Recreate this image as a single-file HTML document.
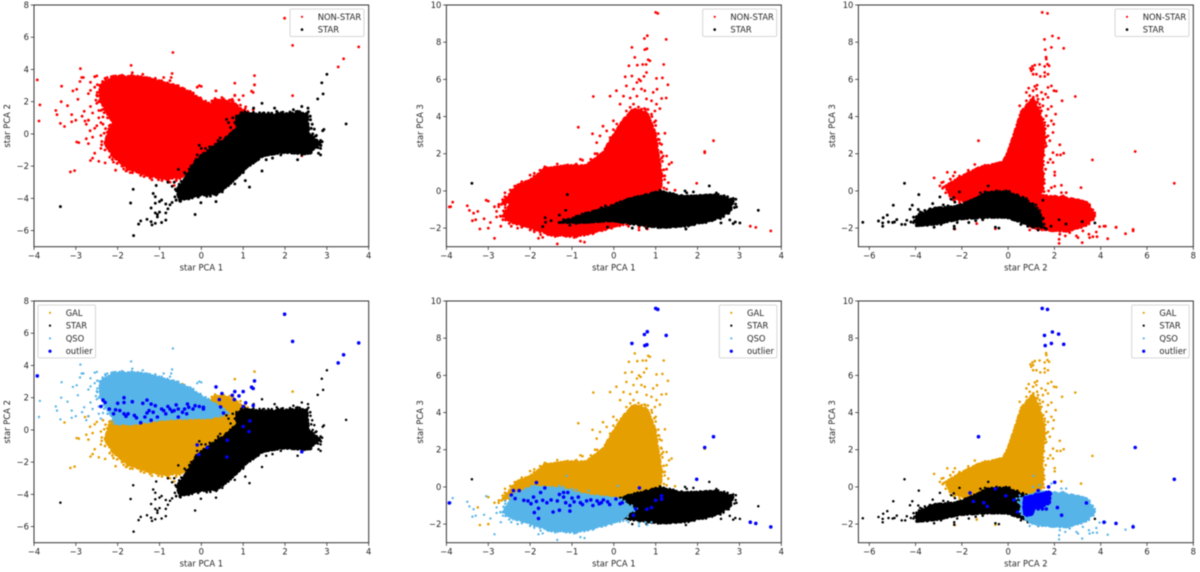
<!DOCTYPE html>
<html lang="en">
<head>
<meta charset="utf-8">
<title>Star PCA scatter plots</title>
<style>
html,body{margin:0;padding:0;background:#fff;width:1200px;height:572px;overflow:hidden}
svg{display:block;filter:blur(0.4px)}
text{font-family:"DejaVu Sans","Liberation Sans",sans-serif;font-size:8.4px;fill:#262626}
</style>
</head>
<body>
<svg id="chart" xmlns="http://www.w3.org/2000/svg" width="1200" height="572" viewBox="0 0 1200 572"></svg>
<script>
// ---------- tick labels ----------
const pca1Ticks = [-4,-3,-2,-1,0,1,2,3,4];
const pca2AxisXTicks = [-6,-4,-2,0,2,4,6,8];
const pca2AxisYTicks = [-6,-4,-2,0,2,4,6,8];
const pca3Ticks = [-2,0,2,4,6,8,10];

// ---------- dense-cloud outlines, [x, y] in data units ----------
const galCloudA = [[-2.2,0.3],[-2,0.7],[-1.5,0.8],[-0.8,0.9],[-0.2,1],[0.1,1.4],[0.3,2.1],[0.55,2.05],[0.8,1.85],[1.05,1.3],[1.3,0.9],[1.4,0.3],[1.2,-0.5],[0.6,-1.5],[0,-2.2],[-0.4,-2.6],[-0.85,-2.8],[-1.3,-2.55],[-1.75,-2.15],[-2.1,-1.4],[-2.3,-0.6]];
const qsoCloudA = [[-2.42,3],[-2.1,3.5],[-1.63,3.56],[-1.23,3.4],[-0.67,3],[-0.27,2.57],[-0.03,2.15],[0.29,1.64],[0.6,1.1],[0.29,0.8],[-0.83,0.7],[-1.63,0.4],[-2.02,0.4],[-2.26,1.33],[-2.42,2.15]];
const starCloudA = [[0.85,1],[1,1.26],[1.56,1.16],[2.2,1.26],[2.52,1.26],[2.56,0],[2.84,-0.6],[2.52,-1.22],[1.96,-1.12],[1.48,-1.33],[1.08,-2.05],[0.76,-2.88],[0.37,-3.7],[-0.11,-3.8],[-0.51,-4.1],[-0.59,-3.5],[-0.35,-2.67],[-0.11,-1.64],[0.29,-0.8],[0.6,-0.3],[0.85,0.3]];

const galCloudB = [[-2.64,-0.63],[-2.32,0.27],[-1.92,0.63],[-1.68,1.17],[-1.13,1.35],[-0.65,1.35],[-0.25,2.06],[-0.01,2.96],[0.19,3.68],[0.47,4.4],[0.78,4.22],[0.98,3.14],[1.06,1.89],[1.14,0.8],[1.1,-0.27],[0.47,-0.63],[-0.33,-0.63],[-1.52,-0.09],[-2.32,-0.63]];
const qsoCloudB = [[-2.64,-1.35],[-2.4,-0.45],[-1.92,0],[-1.29,-0.09],[-0.65,-0.45],[0.07,-0.63],[0.47,-1.17],[0.15,-1.8],[-0.41,-2.15],[-0.89,-2.42],[-1.52,-2.33],[-2.08,-1.89],[-2.48,-1.62]];
const starCloudB = [[-1.2,-1.67],[-0.65,-1.22],[-0.17,-0.95],[0.31,-0.5],[1.1,-0.05],[1.66,-0.32],[2.45,-0.23],[2.85,-0.5],[2.77,-1.04],[2.45,-1.49],[1.74,-1.85],[1.1,-1.94],[0.47,-1.76],[-0.01,-1.58],[-0.65,-1.67]];

const galCloudC = [[-2.66,0.27],[-2.08,0.72],[-1.22,1.26],[-0.22,1.53],[0,2.06],[0.29,3.14],[0.57,4.22],[1.08,4.94],[1.36,4.22],[1.58,2.96],[1.44,1.53],[1.5,0.09],[1.08,-0.63],[0.36,-0.63],[-1.8,-0.63],[-2.5,-0.27]];
const qsoCloudC = [[0.57,-0.63],[1.36,-0.27],[2.37,-0.36],[3.38,-0.63],[3.74,-1.35],[3.38,-1.8],[2.51,-2.15],[1.51,-2.06],[0.93,-1.89],[0.57,-1.35]];
const starCloudC = [[-3.95,-1.4],[-3.23,-0.95],[-2.23,-0.86],[-1.51,-0.5],[-0.93,-0.14],[-0.07,-0.05],[0.79,-0.5],[1.36,-1.22],[1.44,-1.94],[0.79,-1.76],[-0.07,-1.4],[-0.93,-1.4],[-2.08,-1.49],[-3.09,-1.76],[-3.95,-1.85]];
const outlierCloudC = [[0.75,-0.6],[1.3,-0.45],[1.8,-0.3],[1.75,-0.85],[1.4,-1.05],[1.1,-1.15],[1,-1.45],[0.75,-1.5],[0.7,-1]];

// ---------- individually readable points, [x, y] in data units ----------
const galPointsA = [[-3.13,-2.36],[-3.03,-2.28],[-2.98,-0.5],[-2.93,-0.54],[-2.78,0.8],[-2.7,0.85],[-3.27,0.46],[-2.66,0.2],[-2.75,-0.3],[-2.7,-0.6],[-2.65,-1.65],[-2.6,-1.5],[-2.55,-1.2],[-2.6,-0.2],[-2.55,0.35],[-2.5,0.5],[-2.45,-1.7],[-2.4,-0.9],[-2.4,-0.1],[-2.35,0.6],[-2.3,-1.8],[-2.3,-0.6],[-2.25,0.1],[-2.2,-0.9],[-2.2,0.5],[-2.15,-1.3],[-2.1,-1.75],[-2.05,-2.25],[-2,-1.5],[-1.95,0.55],[-1.9,-2],[-1.85,-1.7],[-1.8,-2.3],[-1.7,-2.4],[-1.6,-2.25],[-1.55,-2.1],[-1.4,-2.45],[-1.3,-2.4],[-1.2,-2.65],[-1.18,-2.85],[-1,-2.6],[-0.9,-2.75],[-0.8,-2.6],[-0.75,-3],[-0.65,-3.2],[-0.6,-2.9],[-2.15,-0.3],[-2,-0.6],[0.35,2],[0.5,1.9],[0.6,1.7],[0.7,2.1],[0.8,3.15],[0.75,1.4],[0.9,1.4],[1,1],[1.27,3.62],[1.27,3.05],[2.18,2.38],[0.8,2.4],[-0.45,2.85],[1.3,0.7],[1.4,0.6],[0.45,2.1],[0.55,2.05],[0.25,2.05],[1.1,1.3]];
const qsoPointsA = [[-3.86,1.8],[-3.88,0.8],[-2.89,4.05],[-2.86,3.5],[-2.82,3.5],[-2.9,3.25],[-3.34,2.96],[-2.98,2.77],[-3.07,2.67],[-3.35,2],[-3.2,1.75],[-3.1,1.2],[-3.45,1.2],[-3.48,1.45],[-3.37,0.65],[-3.1,0.75],[-3,0.85],[-2.95,2.15],[-2.8,1.4],[-2.85,1.1],[-2.75,0.6],[-2.7,0.85],[-2.65,1.7],[-2.7,2.5],[-2.65,2.7],[-2.65,3.2],[-2.6,1.3],[-2.55,3.55],[-2.5,3.6],[-2.5,1.9],[-2.45,1],[-2.4,0.7],[-2.3,3.45],[-2.25,3.5],[-2.15,3.55],[-2.05,3.6],[-1.9,3.65],[-1.75,3.55],[-1.68,4.25],[-1.65,3.8],[-1.4,3.7],[-1.35,3.5],[-1.3,3.5],[-1.1,3.45],[-0.95,3.3],[-0.9,3.5],[-0.7,3.75],[-0.72,3.5],[-0.75,3.3],[-0.68,5.05],[-0.55,3],[-0.1,2.9],[-0.05,3],[0,2.95],[-0.5,2.7],[-2.55,2.9],[-2.5,2.4],[-2.52,2.1],[-2.45,1.45],[-2.35,1.05],[-2.3,3.2],[-2.1,3.4],[-1.55,3.5],[-1.2,3.3],[-1,3.15],[-0.6,2.75],[-0.35,2.4],[-0.15,2.25],[0.1,1.8],[0.2,1.6]];
const starPointsA = [[-3.37,-4.51],[-1.62,-6.31],[-1.63,-3.44],[-1.69,-4.29],[-0.15,-5],[-0.01,-4.27],[3,3.7],[2.88,3.17],[2.91,2.48],[2.78,2.17],[3.46,0.62],[-1.5,-5.6],[-1.45,-5.4],[-1.3,-5.3],[-1.2,-5.45],[-1.18,-5.65],[-1.1,-5.55],[-1.05,-5.15],[-0.95,-5.5],[-0.85,-5.35],[-1.2,-4.6],[-1.1,-4.9],[-1.05,-5],[-1,-4.85],[-0.85,-4.9],[-0.8,-4.65],[-1.15,-3.7],[-1.1,-3.9],[-1.08,-3.2],[-1.1,-4.3],[-1,-4.2],[-0.95,-4.1],[-0.85,-4.35],[-0.75,-4.4],[-0.7,-4.25],[-0.6,-4.1],[-0.6,-3.5],[-0.5,-4],[-0.45,-3.9],[-0.4,-4],[-0.3,-4],[-0.2,-3.6],[-0.55,-2.2],[-0.65,-3],[-0.8,-3],[-0.7,-3.25],[-0.45,-3],[-0.4,-2.4],[-0.2,-2.3],[-0.15,-1.7],[-0.1,-1.3],[-0.05,-0.7],[0,-0.9],[0.1,-0.9],[0.1,-1.4],[0.2,-0.8],[0.3,-1],[0.35,-0.7],[0.4,-0.4],[0.45,-0.25],[0.5,-0.5],[0.55,-1],[0.6,-0.2],[0.65,0.7],[0.6,0.9],[0.7,0.4],[0.75,1],[0.8,0.7],[0.85,0.1],[0.95,1.3],[1,0.8],[1.1,1.3],[1.2,1.1],[1.25,1.6],[1.3,0.9],[1.45,1.9],[1.5,1.3],[1.6,1.3],[1.75,1.6],[1.8,1.4],[1.95,1.35],[2,1.2],[2.2,1.5],[2.3,1.4],[2.4,1.7],[2.55,1.6],[2.6,1.1],[2.65,0.6],[2.7,0.3],[2.75,-0.1],[2.7,-0.7],[2.85,-0.9],[2.9,0.2],[2.93,0.28],[2.85,-0.4],[2.8,-1.2],[2.85,-1.3],[2.6,-1.2],[2.4,-1.3],[2.3,-1.6],[2.15,-1.15],[1.9,-1.3],[1.7,-1.5],[1.55,-1.6],[1.45,-2.3],[1.3,-1.5],[1.15,-1.7],[1.15,-3.3],[1.05,-2.9],[1,-2.4],[0.9,-2.1],[0.8,-3.1],[0.8,-2.5],[0.65,-3.2],[0.6,-2.7],[0.5,-3.1],[0.5,-3.6],[0.35,-3.6],[0.35,-4.2],[0.3,-3.2],[0.15,-3.5],[0,-3.7],[-0.1,-3.4]];
const outlierPointsA = [[-3.92,3.35],[1.99,7.18],[2.18,5.49],[3.76,5.4],[3.4,4.66],[3.27,4.16],[0.35,2.67],[0.49,2.26],[1.27,3.04],[1.2,2.65],[1.24,2.57],[1,2.38],[0.8,2.38],[0.74,2.15],[0.9,2.11],[0.43,1.88],[0.79,1.88],[1.06,1.68],[1,1.45],[1.24,1.51],[0.46,1.43],[0.53,1.04],[1.16,0.56],[1,0.21],[1.14,-0.1],[0.62,-0.64],[-0.1,-0.93],[0.14,-1.1],[-0.06,-1.53],[0.61,-1.68],[2.4,-1.35],[-2.4,1.45],[-2.35,1.85],[-2.3,1.7],[-2.2,1.3],[-2.1,1],[-2.05,1.25],[-2,1.65],[-1.95,1.2],[-1.85,2],[-1.85,1.7],[-1.85,1],[-1.8,0.85],[-1.75,1],[-1.65,1.75],[-1.6,0.9],[-1.55,0.75],[-1.45,0.45],[-1.4,1.65],[-1.35,0.8],[-1.3,1.05],[-1.3,1.85],[-1.25,1.2],[-1.2,0.6],[-1.2,1.6],[-1.15,1.1],[-1.1,1.5],[-1.05,0.8],[-0.95,1.3],[-0.9,1.2],[-0.85,1],[-0.8,1.45],[-0.75,1.3],[-0.7,1.15],[-0.65,1.2],[-0.6,1.55],[-0.55,1.3],[-0.55,0.8],[-0.45,1.1],[-0.4,1.3],[-0.35,1],[-0.33,1.6],[-0.3,1.4],[-0.2,1.3],[-0.15,1.5],[-0.05,1.45],[0.05,1.4],[0.05,1.3]];

const galPointsB = [[0.5,7.18],[0.36,6.73],[0.56,6.77],[0.82,7.05],[0.86,7],[0.77,6.8],[0.69,6.8],[1.19,6.8],[1.16,6.08],[1.29,5.71],[-0.49,5.08],[-0.09,5.1],[0.06,5.39],[0.27,6.14],[0.43,6.18],[0.78,6.37],[0.72,6.16],[0.6,6],[0.64,5.92],[0.55,5.83],[0.3,5.65],[0.47,5.48],[0.66,5.48],[0.74,5.39],[1.02,6.05],[1.03,5.47],[1.14,4.97],[1.25,5],[0.94,5.3],[0.23,5.1],[0.39,5],[0.55,5.1],[0.78,4.95],[0.9,4.85],[0.15,4.67],[0.47,4.67],[0.39,4.5],[0.66,4.4],[1.02,4.67],[1.1,4.43],[0.98,4.3],[0.9,4.13],[-0.85,3.43],[-0.26,3.48],[-0.01,3.77],[0.07,3.6],[1.22,3.1],[1,3.77],[0.94,3.3],[1.06,2.78],[-0.51,3.07],[-0.41,2.6],[-0.33,2.96],[-0.17,3.23],[-0.09,2.87],[-0.01,3.3],[1.14,2.5],[1.18,1.88],[1.26,1.88],[1.38,1.53],[1.32,1.43],[1.26,1.17],[1.18,0.8],[1.3,0.45],[1.26,0.09],[1.46,0.04],[1.1,1.7],[1.14,2.06],[-1.65,1.3],[-1.6,1.25],[-1.5,1.1],[-1.35,1.45],[-1.3,1.3],[-1.2,1.1],[-1.1,1.4],[-1,1.25],[-0.95,1],[-0.9,1.45],[-0.8,1.7],[-0.75,1.65],[-0.6,1.5],[-0.55,1.7],[-0.45,2],[-0.4,2],[-0.35,1.7],[-0.3,1.9],[-0.2,2.2],[-0.15,2.5],[-0.1,2.3],[-1.75,0.7],[-1.9,0.95],[-2,0.85],[-2.1,0.5],[-2.2,0.35],[-2.35,0.15],[-2.45,-0.15],[-2.6,-0.1],[-2.2,0.5],[-2.15,0.3],[-3.2,-2.05],[-3,-2],[-3,-0.55],[-3.25,-1.1],[-2.75,-0.85],[-2.85,-0.85],[2.17,2.05],[0.25,3.9],[0.3,4.3],[0.75,4.4],[0.85,3.9],[0.15,3.3],[0.1,2.8],[-0.05,2.5]];
const qsoPointsB = [[-3.9,-0.85],[-3.85,-0.6],[-3.5,-0.8],[-3.45,-1.05],[-3.35,-1.2],[-3.38,-1.6],[-3.3,-1.55],[-3.1,-1.5],[-3.05,-0.5],[-2.95,-1.7],[-2.85,-2.55],[-2.8,-1.1],[-2.8,-1.4],[-2.7,-1.9],[-2.65,-1.55],[-2.6,-0.75],[-2.55,-1.3],[-2.5,-1.75],[-2.45,-1.9],[-2.3,-2],[-2.2,-1.95],[-2,-2.1],[-1.9,-2.2],[-1.8,-2.55],[-1.75,-2.35],[-1.7,-2.5],[-1.65,-2.2],[-1.6,-2.3],[-1.4,-2.45],[-1.35,-2.85],[-1.2,-2.4],[-1.05,-2.4],[-0.95,-2.5],[-0.9,-2.3],[-0.8,-2.7],[-0.7,-2.75],[-0.6,-2.3],[-0.5,-2.3],[-0.3,-2.1],[-0.2,-2.05],[-0.05,-2],[0.1,-1.8],[0.3,-1.8],[0.35,-1.9],[0.4,-1.3],[0.6,-1.95],[0.6,-2.1],[0.75,-1.9],[0.8,-2.05],[0.9,-1.9],[-1.13,0.6],[0.1,0.05],[-1.75,-0.05],[-1.3,0.05],[-1.2,0],[-1,-0.1],[-0.6,-0.2],[-0.9,-0.15]];
const starPointsB = [[-3.39,0.41],[-1.11,-0.2],[-1.15,-1.04],[-1.3,-1.3],[-1.64,-1.44],[-1.7,-1.92],[-1.63,-1.69],[-1.5,-1.6],[3.45,-1.04],[3.01,-1.72],[2.85,-1.76],[2.77,-1.56],[2.9,-1.67],[2.56,-1.72],[2.28,0.27],[1.9,-0.05],[1.7,0],[1.74,-0.1],[1.1,0.03],[1.18,-0.1],[1.26,-0.23],[1.38,-0.32],[0.44,-2],[-0.15,-1.94],[0.78,-2],[1.72,-2.05],[1.26,-1.95],[1.06,-1.88],[2.2,-0.32],[2.45,-0.11],[2.54,-0.32],[2.85,-0.4],[2.93,-0.86],[2.73,-0.5],[2.65,-0.7],[-1.1,-1.7],[-1.2,-1.55],[-1.05,-1.85],[-0.9,-1.75],[-0.75,-1.5],[-0.6,-1.45],[-0.5,-1.3],[-0.4,-1.2],[-0.3,-0.9],[-0.2,-0.8],[-0.1,-0.9],[0.05,-0.85],[0.15,-0.7],[0.3,-0.55],[0.4,-0.45],[0.5,-0.45],[0.6,-0.35],[0.75,-0.3],[2.1,-0.4],[1.5,-0.4],[1.3,-0.55],[2.4,-1.5],[2.2,-1.7],[1.9,-1.8],[1.6,-1.9],[1.4,-1.85],[1.1,-1.75],[0.9,-1.85],[0.65,-1.8],[2.7,-1.2],[2.8,-1]];
const outlierPointsB = [[-3.93,-0.86],[1,9.6],[1.05,9.55],[0.8,8.35],[0.73,8.2],[1.25,8.15],[0.43,7.72],[0.74,7.6],[0.79,7.65],[2.38,2.7],[2.17,2.12],[1.98,0.41],[3.26,-1.9],[3.39,-1.96],[3.75,-2.15],[0.61,-0.05],[1.14,-0.48],[1.14,-0.66],[1,-0.72],[0.9,-1.11],[0.79,-1.2],[0.52,-1.18],[0.47,-1.52],[-1.85,0.23],[-2.4,-0.2],[-2.26,-0.2],[-2.45,-0.43],[-2.36,-0.63],[-2.15,-0.72],[-2.05,-0.75],[-1.98,-0.9],[-1.92,-0.55],[-1.9,-1.38],[-1.85,-0.78],[-1.8,-1.15],[-1.8,-1.7],[-1.75,-0.3],[-1.7,-0.72],[-1.65,-0.05],[-1.6,-0.85],[-1.5,-0.7],[-1.45,-1.35],[-1.35,-0.75],[-1.3,-1.25],[-1.3,-0.4],[-1.2,-0.3],[-1.2,-0.55],[-1.15,-0.85],[-1.1,-0.3],[-1.05,-1],[-1.05,-1.3],[-1,-0.6],[-0.95,-0.8],[-0.85,-0.55],[-0.8,-0.85],[-0.75,-0.95],[-0.65,-0.75],[-0.55,-0.7],[-0.5,-1],[-0.4,-0.75],[-0.35,-0.9],[-0.3,-0.85],[-0.25,-0.7],[-0.15,-0.8],[-0.1,-0.95],[0.05,-0.65],[0.15,-0.9],[0.2,-0.85]];

const galPointsC = [[1.64,7.2],[1.65,7.09],[1.7,6.82],[1.58,6.7],[1.36,6.8],[1.15,6.77],[1.05,6.7],[0.96,6.59],[1.08,6.55],[1,6.46],[1.08,6.28],[1.22,6.28],[1.39,6.16],[1.77,6.73],[1.58,6.37],[1.72,6.28],[1.58,6.16],[1.98,5.39],[2.08,5.37],[1.87,5.65],[1.72,5.57],[1.25,5.69],[1.15,5.62],[0.89,5.53],[0.79,5.3],[1.08,5.39],[1.22,5.48],[1.44,5.3],[1.62,5.2],[1.72,5.03],[1.5,4.94],[1.25,5.12],[1.29,4.94],[1.08,4.94],[0.93,5.12],[0.79,4.85],[2.33,4.85],[2.9,5.08],[1.87,4.54],[2.05,4.13],[1.72,4.4],[1.5,4.58],[1.36,4.67],[1.65,4.04],[1.87,3.77],[1.97,3.59],[1.94,3.14],[1.72,3.5],[1.58,3.68],[1.36,4.22],[1.15,4.49],[0.93,4.67],[0.6,4.22],[0.5,4.58],[0.65,4.4],[2.23,2.48],[2.4,2.03],[3.64,1.67],[1.72,2.96],[1.8,2.7],[1.65,2.42],[1.94,2.06],[2.11,1.94],[2.26,1.94],[1.82,1.7],[1.72,1.53],[2.01,1.02],[1.94,1.53],[1.62,1.17],[1.5,0.8],[2.01,0.84],[2.3,0.3],[3.15,0.18],[-3.2,0.7],[-2.63,1],[-2.87,0.45],[-2.8,0.48],[-2.95,0.27],[-2.73,0.23],[-2.66,0.09],[-2.83,0.14],[-2.5,0.63],[-2.37,0.8],[-2.3,0.54],[-2.1,0.8],[-1.72,1.11],[-1.44,1.42],[-1,1.38],[-0.36,1.53],[-0.19,1.51],[-0.8,1.2],[-1.22,1.03],[-1.94,0.57],[-1.6,1],[-2.3,-2.05],[-1.36,-1.76],[-0.55,-2.03],[-2.3,1]];
const qsoPointsC = [[1.1,0.6],[2.3,-0.09],[2.51,-0.09],[2.37,-0.27],[2.16,-0.36],[2.73,-0.41],[3.02,-0.48],[3.45,-0.72],[3.52,-0.81],[3.66,-1.26],[3.74,-1.35],[3.52,-1.6],[3.38,-1.7],[3.16,-1.97],[3.23,-2.15],[2.95,-2.42],[3.02,-2.51],[3.2,-2.78],[3.52,-2.51],[3.49,-2.33],[3.66,-2.46],[3.84,-2.46],[3.81,-2.21],[3.95,-1.92],[4.2,-1.9],[4.3,-2.57],[4.67,-1.95],[5.07,-2.3],[5.4,-2.07],[2.2,-2.6],[2.2,-2.82],[2.47,-2.42],[2.66,-2.24],[2.23,-2.33],[1.9,-2.15],[0.93,-2.1],[1.29,-2.1],[1.58,-2.03],[0.65,-1.5],[0.36,-0.63],[0.43,-0.81],[0.5,-0.45],[1.08,0],[1.36,0.09],[1.87,0.18]];
const starPointsC = [[-6.28,-1.69],[-5.6,-1.62],[-5.4,-1.44],[-5.22,-1.3],[-5.42,-1.72],[-5.42,-1.9],[-5.17,-1.67],[-4.96,-0.77],[-4.91,-1.67],[-4.81,-1.54],[-4.99,-1.7],[-4.48,0.41],[-3.86,-0.2],[-4.14,-0.77],[-4.24,-0.99],[-4.6,-1.8],[-4.38,-1.58],[-4.45,-1.8],[-4.2,-1.67],[-3.26,-0.68],[-3.88,-1],[-3.8,-1.13],[-2.95,-0.32],[-2.1,-0.05],[-2.33,-1.9],[-2.33,-2.03],[-2.35,-0.35],[-2.3,-0.6],[-2.2,-0.8],[-2.45,-0.45],[-3.6,-1.05],[-3.4,-1.1],[-3,-0.95],[-2.8,-0.75],[-2.6,-0.8],[-4.05,-1.6],[-3.8,-1.85],[-3.5,-1.85],[-3.2,-1.95],[-2.9,-1.8],[-2.2,-1.7],[-1.7,-1.7],[-1.4,-1.6],[-1.1,-1.55],[-0.86,0.27],[-1,-0.05],[-1.2,-0.1],[-0.7,-0.05],[-0.55,-0.05],[-0.2,-0.1],[0.1,-0.15],[-0.5,0],[0.3,-0.5],[-0.4,-2],[-0.55,-1.95],[0.55,-1.8],[0.7,-1.7],[0.85,-1.9],[1,-1.9],[1.1,-1.95],[1.3,-2.1],[1.65,-2.05],[1.85,-1.9],[2.2,-1.55],[2.5,-1.78],[3.2,-1.65],[3.75,-1.72],[1.5,-1.5],[1.5,-0.5],[1.2,-0.75],[1.4,-1.3],[1.45,-1.8]];
const outlierPointsC = [[1.47,9.6],[1.7,9.55],[1.91,8.33],[2.18,8.22],[1.57,8.15],[2.4,7.67],[1.87,7.72],[1.6,7.6],[-1.28,2.7],[5.49,2.12],[7.18,0.41],[4.14,-1.9],[4.66,-1.96],[5.4,-2.15],[2.01,0.25],[3.38,-0.86],[2.13,-1.11],[2.31,-1.52],[-1.65,-0.32],[-0.55,-0.1],[-1.5,-0.78],[-1.05,-0.85],[-0.9,-1.05],[-0.1,-0.48],[0.25,-0.7],[0.4,-1.35],[0.75,-1.45],[0.8,-1.3],[0.85,-1.1],[0.8,-0.95],[0.9,-0.75],[0.95,-1],[1,-1.2],[1,-0.55],[1.05,-0.85],[1.1,-1.05],[1.15,-0.65],[1.2,-0.9],[1.25,-0.5],[1.3,-1],[1.35,-0.75],[1.45,-1],[1.45,-0.6],[1.5,-0.8],[1.55,-0.5],[1.6,-0.75],[1.65,-0.3],[1.7,-0.5],[1.75,-0.7],[1.8,-0.4],[0.9,-0.9],[1.05,-1.35],[0.85,-1.45],[1.15,-0.95],[1.3,-0.65],[1.4,-0.45],[1.55,-0.95],[0.75,-0.8],[1.3,-1.18],[1.48,-1.18],[1.65,-1.18],[1.2,-0.4],[1.3,-0.2],[1.75,0]];

// ---------- legend labels ----------
const legendLabelsTop = ['NON-STAR','STAR'];
const legendLabelsBottom = ['GAL','STAR','QSO','outlier'];

// ---------- colours ----------
const RED = '#ff0000', BLACK = '#000000', ORANGE = '#e69f00', SKY = '#56b4e9', BLUE = '#0000ff';

const svg = document.getElementById('chart');
const NS = 'http://www.w3.org/2000/svg';

function add(parent, tag, attrs, name, text) {
  const el = document.createElementNS(NS, tag);
  for (const k in attrs) el.setAttribute(k, attrs[k]);
  
  
  if (text !== undefined) el.textContent = text;
  parent.appendChild(el);
  return el;
}
function fmt(v) { return v < 0 ? '\u2212' + Math.abs(v) : String(v); }

function drawPanel(p) {
  const g = add(svg, 'g', {}, p.name);
  const sx = v => p.left + (v - p.xlim[0]) / (p.xlim[1] - p.xlim[0]) * (p.right - p.left);
  const sy = v => p.bottom - (v - p.ylim[0]) / (p.ylim[1] - p.ylim[0]) * (p.bottom - p.top);

  p.layers.forEach(layer => {
    const lg = add(g, 'g', {}, layer.name + '-series');
    layer.clouds.forEach(c => {
      const pts = c.map(q => [sx(q[0]), sy(q[1])]);
      const cx = pts.reduce((a, q) => a + q[0], 0) / pts.length;
      const cy = pts.reduce((a, q) => a + q[1], 0) / pts.length;
      const str = pts.map(q => q[0].toFixed(1) + ',' + q[1].toFixed(1)).join(' ');
      const halo = pts.map(q => (cx + (q[0] - cx) * 1.05).toFixed(1) + ',' + (cy + (q[1] - cy) * 1.05).toFixed(1)).join(' ');
      add(lg, 'polygon', {points: str, fill: layer.color, stroke: layer.color, 'stroke-width': 1.5, 'stroke-linejoin': 'round'}, layer.name + '-cloud');
      add(lg, 'polygon', {points: str, fill: 'none', stroke: layer.color, 'stroke-width': layer.r * 2.6, 'stroke-linecap': 'round', 'stroke-dasharray': '0.1 3.3 0.1 2.2 0.1 4.4'}, layer.name + '-cloud-edge');
      add(lg, 'polygon', {points: halo, fill: 'none', stroke: layer.color, 'stroke-width': layer.r * 2, 'stroke-linecap': 'round', 'stroke-dasharray': '0.1 6 0.1 3.5 0.1 8.5'}, layer.name + '-cloud-halo');
    });
    layer.points.forEach(set => set.forEach(q => {
      add(lg, 'circle', {cx: sx(q[0]).toFixed(1), cy: sy(q[1]).toFixed(1), r: layer.r, fill: layer.color}, layer.name + '-point');
    }));
  });

  add(g, 'rect', {x: p.left, y: p.top, width: p.right - p.left, height: p.bottom - p.top, fill: 'none', stroke: '#333', 'stroke-width': 1}, 'plot-frame');

  p.xticks.forEach(t => {
    const x = sx(t);
    add(g, 'line', {x1: x, x2: x, y1: p.bottom, y2: p.bottom + 3.2, stroke: '#333', 'stroke-width': 0.8}, 'x-tick');
    add(g, 'text', {x: x, y: p.bottom + 12, 'text-anchor': 'middle'}, 'x-tick-label', fmt(t));
  });
  p.yticks.forEach(t => {
    const y = sy(t);
    add(g, 'line', {x1: p.left - 3.2, x2: p.left, y1: y, y2: y, stroke: '#333', 'stroke-width': 0.8}, 'y-tick');
    add(g, 'text', {x: p.left - 5, y: y + 3, 'text-anchor': 'end'}, 'y-tick-label', fmt(t));
  });
  add(g, 'text', {x: (p.left + p.right) / 2, y: p.bottom + 24, 'text-anchor': 'middle'}, 'x-axis-title', p.xlabel);
  const yc = (p.top + p.bottom) / 2;
  add(g, 'text', {x: p.ylabelX, y: yc, 'text-anchor': 'middle', transform: 'rotate(-90 ' + p.ylabelX + ' ' + yc + ')'}, 'y-axis-title', p.ylabel);

  const lg = add(g, 'g', {}, 'legend');
  add(lg, 'rect', {x: p.legend.x, y: p.legend.y, width: p.legend.w, height: p.legend.h, rx: 1.5, fill: '#fff', 'fill-opacity': 0.9, stroke: '#ccc', 'stroke-width': 0.8}, 'legend-box');
  p.legend.labels.forEach((label, i) => {
    const y = p.legend.y + 7.8 + i * 12.8;
    add(lg, 'circle', {cx: p.legend.x + 12, cy: y, r: p.legend.markers[i], fill: p.legend.colors[i]}, 'legend-marker');
    add(lg, 'text', {x: p.legend.x + 27.7, y: y + 3}, 'legend-label', label);
  });
}

const topMarks = [1.1, 1.3];
const bottomMarks = [1.1, 1.1, 1.1, 1.6];
function topLayers(g, q, o, s, gp, qp, op, sp) {
  return [
    {name: 'non-star', color: RED, r: 1.4, clouds: [g, q], points: [gp, qp, op]},
    {name: 'star', color: BLACK, r: 1.45, clouds: [s], points: [sp]}
  ];
}
function bottomLayers(g, q, o, s, gp, qp, op, sp) {
  return [
    {name: 'gal', color: ORANGE, r: 1.3, clouds: [g], points: [gp]},
    {name: 'star', color: BLACK, r: 1.25, clouds: [s], points: [sp]},
    {name: 'qso', color: SKY, r: 1.2, clouds: [q], points: [qp]},
    {name: 'outlier', color: BLUE, r: 1.8, clouds: o ? [o] : [], points: [op]}
  ];
}
const topRow = {top: 5, bottom: 246.7};
const botRow = {top: 301, bottom: 542.7};
const columns = [
  {left: 34, right: 368.7, xlim: [-4, 4], ylim: [-7, 8], xticks: pca1Ticks, yticks: pca2AxisYTicks, xlabel: 'star PCA 1', ylabel: 'star PCA 2', ylabelX: 10,
   args: [galCloudA, qsoCloudA, null, starCloudA, galPointsA, qsoPointsA, outlierPointsA, starPointsA], legendTopX: 290, legendBotX: 38, key: 'pca1-pca2'},
  {left: 446.4, right: 781.3, xlim: [-4, 4], ylim: [-3, 10], xticks: pca1Ticks, yticks: pca3Ticks, xlabel: 'star PCA 1', ylabel: 'star PCA 3', ylabelX: 423,
   args: [galCloudB, qsoCloudB, null, starCloudB, galPointsB, qsoPointsB, outlierPointsB, starPointsB], legendTopX: 702.7, legendBotX: 719.3, key: 'pca1-pca3'},
  {left: 858.4, right: 1193.3, xlim: [-6.47, 8], ylim: [-3, 10], xticks: pca2AxisXTicks, yticks: pca3Ticks, xlabel: 'star PCA 2', ylabel: 'star PCA 3', ylabelX: 835,
   args: [galCloudC, qsoCloudC, outlierCloudC, starCloudC, galPointsC, qsoPointsC, outlierPointsC, starPointsC], legendTopX: 1115, legendBotX: 1131.7, key: 'pca2-pca3'}
];
columns.forEach(c => {
  drawPanel(Object.assign({}, c, topRow, {
    name: 'panel-top-' + c.key,
    layers: topLayers.apply(null, c.args),
    legend: {x: c.legendTopX, y: 9, w: 74, h: 27.5, labels: legendLabelsTop, colors: [RED, BLACK], markers: topMarks}
  }));
});
columns.forEach(c => {
  drawPanel(Object.assign({}, c, botRow, {
    name: 'panel-bottom-' + c.key,
    layers: bottomLayers.apply(null, c.args),
    legend: {x: c.legendBotX, y: 305, w: 57.5, h: 53, labels: legendLabelsBottom, colors: [ORANGE, BLACK, SKY, BLUE], markers: bottomMarks}
  }));
});
</script>
</body>
</html>
